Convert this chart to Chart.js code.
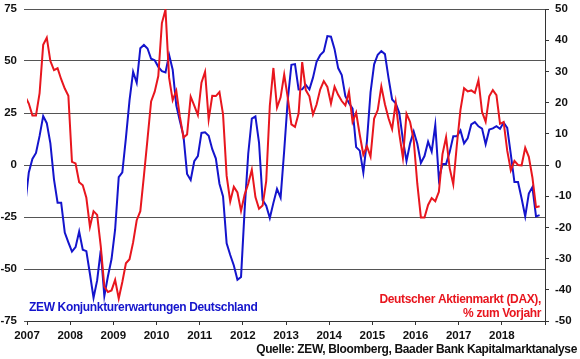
<!DOCTYPE html>
<html>
<head>
<meta charset="utf-8">
<script src="https://cdn.jsdelivr.net/npm/chart.js@4.4.1/dist/chart.umd.min.js"></script>
<style>
html,body{margin:0;padding:0;background:#fff;}
canvas{display:block;}
</style>
</head>
<body>
<canvas id="c" width="580" height="359"></canvas>
<script>
// First data month: December 2006 (monthly values, plotted mid-month)
const startYear = 2006;
const startMonth = 12;
const yearTicks = [2007,2008,2009,2010,2011,2012,2013,2014,2015,2016,2017,2018];
const leftTicks = [-75,-50,-25,0,25,50,75];
const rightTicks = [-50,-40,-30,-20,-10,0,10,20,30,40,50];

// ZEW Konjunkturerwartungen Deutschland (left axis)
const zew = [
  -19.0,
  -3.6, 2.9, 5.8, 14.0, 23.5, 20.1, 10.4, -6.9, -18.1, -18.1, -32.5, -37.2,
  -41.6, -39.5, -32.0, -40.7, -41.4, -52.4, -63.9, -55.5, -41.1, -63.0, -53.5, -45.2,
  -31.0, -5.8, -3.5, 13.0, 31.1, 44.8, 39.5, 56.1, 57.7, 56.0, 51.1, 50.4,
  47.2, 45.1, 44.5, 53.0, 45.8, 28.7, 21.2, 14.0, -4.3, -7.2, 1.8, 4.3,
  15.4, 15.7, 14.1, 7.6, 3.1, -9.0, -15.1, -37.6, -43.3, -48.3, -55.2, -53.8,
  -21.6, 5.4, 22.3, 23.4, 10.8, -16.9, -19.6, -25.5, -18.2, -11.5, -15.7, 6.9,
  31.5, 48.2, 48.5, 36.3, 36.4, 38.5, 36.3, 42.0, 49.6, 52.8, 54.6, 62.0,
  61.7, 55.7, 46.6, 43.2, 33.1, 29.8, 27.1, 8.6, 6.9, -3.6, 11.5, 34.9,
  48.4, 53.0, 54.8, 53.3, 41.9, 31.5, 29.7, 25.0, 12.1, 1.9, 10.4, 16.1,
  10.2, 1.0, 4.3, 11.2, 6.4, 19.2, -6.8, 0.5, 0.5, 6.2, 13.8, 13.8,
  16.6, 10.4, 12.8, 19.5, 20.6, 18.6, 17.5, 10.0, 17.0, 17.6, 18.7, 17.4,
  20.4, 17.8, 5.1, -8.2, -8.2, -16.1, -24.7, -13.7, -10.6, -24.7, -24.1
];

// Deutscher Aktienmarkt (DAX), % zum Vorjahr (right axis)
const dax = [
  22.0,
  19.7, 15.9, 15.9, 23.0, 38.5, 40.8, 33.3, 30.4, 31.0, 27.5, 24.5, 22.2,
  1.0, 0.5, -5.5, -6.5, -10.5, -19.8, -14.8, -16.0, -26.0, -39.0, -40.7, -40.2,
  -36.8, -42.8, -37.5, -31.5, -30.2, -24.8, -17.7, -14.8, -3.5, 8.3, 20.4, 23.5,
  28.5, 45.5, 49.8, 28.0, 20.8, 23.8, 15.5, 8.8, 9.8, 21.9, 19.0, 16.0,
  26.4, 29.9, 14.6, 22.2, 22.1, 23.4, 16.2, -3.5, -11.7, -7.0, -8.8, -14.7,
  -9.5, -6.0, -1.5, -10.3, -14.0, -13.0, -5.2, 19.0, 31.1, 18.4, 21.7, 29.0,
  21.5, 13.0, 12.2, 16.5, 33.0, 24.0, 22.0, 16.2, 19.4, 24.2, 26.9, 25.0,
  19.7, 25.1, 22.5, 20.5, 19.1, 23.5, 13.8, 16.8, 9.7, 3.3, 6.0, 2.7,
  14.9, 17.6, 25.2, 19.5, 15.0, 11.5, 20.0, 10.0, 2.3, 16.4, 13.8, 8.0,
  -6.0, -16.8, -16.8, -12.8, -10.6, -11.6, -8.6, 3.5, 8.9, -1.0, -6.2, 6.5,
  17.7, 24.6, 23.6, 23.9, 23.1, 27.2, 17.0, 13.9, 22.0, 24.0, 22.4, 13.2,
  13.8, 4.6, -1.7, 1.3, 0.0, -0.1, 5.5, 2.6, -4.0, -13.5, -13.2
];

const zewLabel = 'ZEW Konjunkturerwartungen Deutschland';
const daxLabel1 = 'Deutscher Aktienmarkt (DAX),';
const daxLabel2 = '% zum Vorjahr';
const sourceLabel = 'Quelle: ZEW, Bloomberg, Baader Bank Kapitalmarktanalyse';

// time position (years) of each monthly value, mid-month
function monthPos(i){ return startYear + (startMonth - 1 + i + 0.5) / 12; }
const zewPts = zew.map((v,i)=>({x: monthPos(i), y: v}));
const daxPts = dax.map((v,i)=>({x: monthPos(i), y: v}));

const FONT = '"Liberation Sans", Arial, sans-serif';
const BLUE = '#1414cc';
const RED = '#e8161e';
const GRID = '#555555';

function noOverflow(s){ s.paddingTop = 0; s.paddingBottom = 0; s.paddingLeft = 0; s.paddingRight = 0; }

const textPlugin = {
  id: 'texts',
  afterDraw(chart){
    const ctx = chart.ctx;
    ctx.save();
    ctx.font = 'bold 12px ' + FONT;
    ctx.letterSpacing = '-0.35px';
    ctx.textBaseline = 'middle';
    ctx.fillStyle = BLUE;
    ctx.textAlign = 'left';
    ctx.fillText(zewLabel, 29, 308);
    ctx.fillStyle = RED;
    ctx.textAlign = 'right';
    ctx.fillText(daxLabel1, 541, 300);
    ctx.fillText(daxLabel2, 541, 313.5);
    ctx.fillStyle = '#111';
    ctx.fillText(sourceLabel, 577, 350);
    ctx.restore();
  }
};

new Chart(document.getElementById('c'), {
  type: 'line',
  data: {
    datasets: [
      { label: 'DAX', data: daxPts, yAxisID: 'y1', borderColor: RED, borderWidth: 2,
        pointRadius: 0, tension: 0, fill: false, order: 0 },
      { label: 'ZEW', data: zewPts, yAxisID: 'y', borderColor: BLUE, borderWidth: 2,
        pointRadius: 0, tension: 0, fill: false, order: 1 }
    ]
  },
  options: {
    responsive: false,
    animation: false,
    devicePixelRatio: 1,
    layout: { padding: { top: 9, left: 0, right: 0, bottom: 0 } },
    plugins: { legend: { display: false }, tooltip: { enabled: false } },
    scales: {
      x: {
        type: 'linear', min: 2007, max: 2019,
        afterBuildTicks(s){ s.ticks = yearTicks.concat([2019]).map(v=>({value:v})); },
        afterFit(s){ s.height = 38; noOverflow(s); },
        ticks: { callback: v => (yearTicks.includes(v) ? String(v) : ''), maxRotation: 0, autoSkip: false,
                 color: '#111', font: { family: FONT, size: 11.5, weight: 'bold' }, padding: 4 },
        grid: { drawOnChartArea: false, tickLength: 4, color: '#333', tickColor: '#333' },
        border: { display: true, color: '#333', width: 1 }
      },
      y: {
        position: 'left', min: -75, max: 75,
        afterBuildTicks(s){ s.ticks = leftTicks.map(v=>({value:v})); },
        afterFit(s){ s.width = 27; noOverflow(s); },
        ticks: { color: '#111', font: { family: FONT, size: 11.5, weight: 'bold' }, padding: 7 },
        grid: { color: GRID, tickLength: 3, lineWidth: 1 },
        border: { display: false }
      },
      y1: {
        position: 'right', min: -50, max: 50,
        afterBuildTicks(s){ s.ticks = rightTicks.map(v=>({value:v})); },
        afterFit(s){ s.width = 35; noOverflow(s); },
        ticks: { color: '#111', font: { family: FONT, size: 11.5, weight: 'bold' }, padding: 6 },
        grid: { drawOnChartArea: false, tickLength: 4, color: '#333' },
        border: { display: true, color: '#333', width: 1 }
      }
    }
  },
  plugins: [textPlugin]
});
</script>
</body>
</html>
